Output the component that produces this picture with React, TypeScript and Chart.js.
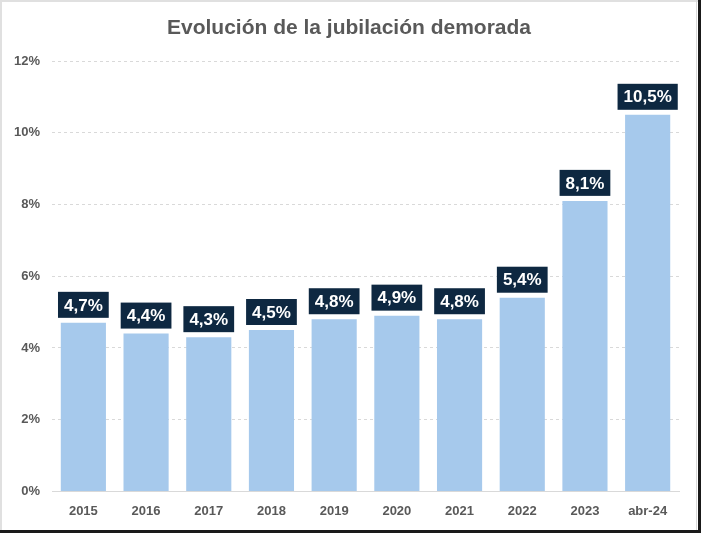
import React, { useEffect, useRef } from "react";
import { Chart, registerables } from "chart.js";

Chart.register(...registerables);

const categories = ["2015", "2016", "2017", "2018", "2019", "2020", "2021", "2022", "2023", "abr-24"];
const values = [4.7, 4.4, 4.3, 4.5, 4.8, 4.9, 4.8, 5.4, 8.1, 10.5];
const yTicks = [0, 2, 4, 6, 8, 10, 12];
const title = "Evolución de la jubilación demorada";

const fmt = (v: number) => v.toFixed(1).replace(".", ",") + "%";

const labelPlugin = {
  id: "boxLabels",
  afterDatasetsDraw(chart: any) {
    const ctx = chart.ctx;
    const meta = chart.getDatasetMeta(0);
    ctx.save();
    ctx.font = "bold 17px 'Liberation Sans', Arial, sans-serif";
    ctx.textAlign = "center";
    ctx.textBaseline = "middle";
    meta.data.forEach((bar: any, i: number) => {
      const text = fmt(values[i]);
      const w = ctx.measureText(text).width + 12;
      const h = 26;
      const bottom = bar.y - 5;
      ctx.fillStyle = "#0e2841";
      ctx.fillRect(bar.x - w / 2, bottom - h, w, h);
      ctx.fillStyle = "#ffffff";
      ctx.fillText(text, bar.x, bottom - h / 2 + 1);
    });
    ctx.restore();
  },
};

const titlePlugin = {
  id: "customTitle",
  afterDraw(chart: any) {
    const ctx = chart.ctx;
    ctx.save();
    ctx.font = "bold 21px 'Liberation Sans', Arial, sans-serif";
    ctx.fillStyle = "#595959";
    ctx.textAlign = "center";
    ctx.textBaseline = "middle";
    ctx.fillText(title, 349, 28);
    ctx.restore();
  },
};

export default function App() {
  const ref = useRef<HTMLCanvasElement>(null);
  useEffect(() => {
    document.body.style.margin = "0";
    const chart = new Chart(ref.current!, {
      type: "bar",
      data: {
        labels: categories,
        datasets: [
          {
            data: values,
            backgroundColor: "#a6c9ec",
            categoryPercentage: 1,
            barPercentage: 0.72,
          },
        ],
      },
      plugins: [labelPlugin, titlePlugin],
      options: {
        animation: false,
        responsive: false,
        devicePixelRatio: 1,
        layout: { padding: { top: 61, left: 2, right: 22, bottom: 2 } },
        plugins: {
          legend: { display: false },
          tooltip: { enabled: false },
          title: { display: false },
        },
        scales: {
          x: {
            grid: { display: false, drawTicks: false },
            border: { display: true, color: "#d9d9d9", width: 1 },
            ticks: {
              color: "#595959",
              padding: 12,
              font: { family: "'Liberation Sans', Arial, sans-serif", size: 13, weight: "bold" },
            },
          },
          y: {
            min: 0,
            max: 12,
            afterBuildTicks: (axis: any) => {
              axis.ticks = yTicks.map((v) => ({ value: v }));
            },
            grid: {
              color: "#d9d9d9",
              drawTicks: false,
            },
            border: { display: false, dash: [3, 3] },
            ticks: {
              color: "#595959",
              padding: 12,
              font: { family: "'Liberation Sans', Arial, sans-serif", size: 13, weight: "bold" },
              callback: (v: any) => v + "%",
            },
          },
        },
      },
    });
    return () => chart.destroy();
  }, []);
  return (
    <div style={{ position: "relative", width: 701, height: 533, background: "#fff" }}>
      <canvas ref={ref} width={701} height={533} style={{ display: "block" }} />
      <div style={{ position: "absolute", left: 0, top: 0, width: 701, height: 2, background: "#e0e0e0" }} />
      <div style={{ position: "absolute", left: 0, top: 0, width: 2, height: 533, background: "#e0e0e0" }} />
      <div style={{ position: "absolute", left: 696, top: 0, width: 1, height: 533, background: "#d8d8d8" }} />
      <div style={{ position: "absolute", left: 698, top: 0, width: 3, height: 533, background: "#1a1a1a" }} />
      <div style={{ position: "absolute", left: 0, top: 530, width: 701, height: 3, background: "#1a1a1a" }} />
    </div>
  );
}
